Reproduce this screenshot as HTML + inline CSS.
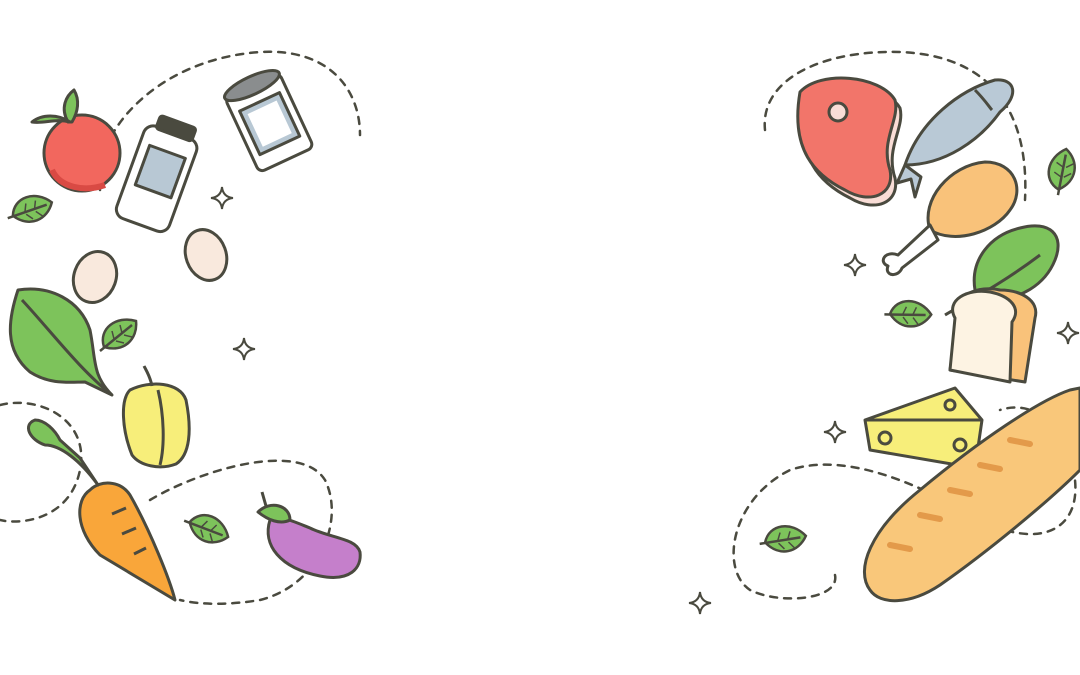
<!DOCTYPE html>
<html><head><meta charset="utf-8"><style>
html,body{margin:0;padding:0;background:#fff;width:1080px;height:675px;overflow:hidden}
svg{display:block}
</style></head><body>
<svg width="1080" height="675" viewBox="0 0 1080 675" xmlns="http://www.w3.org/2000/svg">
<defs>
<g id="leaf"><path d="M-16,12 C-22,-6 -4,-20 16,-14 C18,4 4,18 -16,12Z" fill="#7dc35b" stroke="#4a4a3f" stroke-width="2.5"/><path d="M-20,16 L12,-10" stroke="#4a4a3f" stroke-width="2.5" fill="none"/><path d="M-6,4 l-2,-8 M2,-2 l-2,-8 M-4,6 l8,2 M4,0 l8,2" stroke="#4a4a3f" stroke-width="1.5"/></g>
<g id="spark"><path d="M0,-11 Q1,-1 11,0 Q1,1 0,11 Q-1,1 -11,0 Q-1,-1 0,-11Z" fill="none" stroke="#4a4a3f" stroke-width="2"/></g>
</defs>
<g fill="none" stroke="#4a4a3f" stroke-width="2.5" stroke-dasharray="7 7" stroke-linecap="round">
<path d="M100,190 C90,140 150,60 260,52 C330,48 360,90 360,135"/>
<path d="M0,405 C40,395 90,420 80,470 C70,520 20,525 0,520"/>
<path d="M150,500 C200,470 300,440 325,480 C345,520 320,585 260,600 C230,605 200,605 180,600"/>
<path d="M765,130 C760,80 820,50 900,52 C980,55 1030,100 1025,200"/>
<path d="M835,575 C840,600 780,605 750,590 C720,570 730,500 790,470 C850,450 930,490 980,520 C1040,550 1080,530 1075,480 C1070,420 1030,400 1000,410"/>
</g>
<g stroke="#4a4a3f" stroke-width="3" stroke-linejoin="round">
<circle cx="82" cy="153" r="38" fill="#f2675e"/>
<path d="M52,170 C60,188 85,192 105,185" fill="none" stroke="#d94a44" stroke-width="6"/>
<path d="M68,122 C60,108 66,96 74,90 C80,100 78,112 72,122Z" fill="#7dc35b"/>
<path d="M70,122 C56,118 44,124 32,122 C42,114 58,114 70,122Z" fill="#7dc35b"/>
<g transform="rotate(20 158 175)">
<rect x="130" y="130" width="56" height="98" rx="10" fill="#fff"/>
<rect x="140" y="150" width="38" height="42" fill="#b8c8d4"/>
<rect x="140" y="118" width="38" height="14" rx="3" fill="#4a4a3f"/>
</g>
<g transform="rotate(-25 268 120)">
<rect x="238" y="82" width="60" height="82" rx="6" fill="#fff"/>
<ellipse cx="268" cy="82" rx="30" ry="9" fill="#8a8d8e"/>
<rect x="246" y="100" width="44" height="48" fill="#b8c8d4"/>
<rect x="252" y="106" width="32" height="36" fill="#fff" stroke="none"/>
</g>
<ellipse cx="95" cy="277" rx="21" ry="26" transform="rotate(20 95 277)" fill="#f9e9dd"/>
<ellipse cx="206" cy="255" rx="20" ry="26" transform="rotate(-20 206 255)" fill="#f9e9dd"/>
<path d="M18,290 C8,320 4,350 30,372 C50,385 70,382 85,382 L112,395 C92,375 96,360 90,330 C80,300 50,285 18,290Z" fill="#7dc35b"/>
<path d="M22,300 C50,330 80,370 112,395" fill="none"/>
<path d="M130,390 C150,380 180,382 186,400 C192,430 190,455 176,464 C160,470 140,466 132,455 C122,430 120,400 130,390Z" fill="#f7ee7a"/>
<path d="M152,386 C150,376 146,370 144,366" fill="none"/>
<path d="M158,390 C164,415 165,445 160,465" fill="none"/>
<path d="M90,490 C75,500 75,530 100,555 L175,600 C170,580 150,530 130,495 C120,480 100,480 90,490Z" fill="#f9a63a"/>
<path d="M112,514 l14,-6 M122,534 l14,-6 M134,554 l12,-6" fill="none"/>
<path d="M98,485 C80,460 60,445 45,445 C30,440 22,425 35,420 C45,420 55,430 60,440 L80,458 Z" fill="#7dc35b"/>
<path d="M270,520 C262,545 280,568 320,576 C350,582 362,568 360,552 C356,538 330,538 310,528 C290,520 280,515 270,520Z" fill="#c57fcb"/>
<path d="M258,512 C270,500 290,505 290,520 C280,525 268,520 258,512Z" fill="#7dc35b"/>
<path d="M266,506 l-4,-14" fill="none"/>
<path d="M806,100 C825,78 885,83 900,108 C905,128 885,148 895,178 C900,203 875,213 850,198 C820,183 795,158 806,100Z" fill="#f9ddd6"/>
<path d="M800,92 C820,70 880,75 895,100 C900,120 880,140 890,170 C895,195 870,205 845,190 C815,175 790,150 800,92Z" fill="#f2756a"/>
<circle cx="838" cy="112" r="9" fill="#f9ddd6"/>
<path d="M905,165 C920,120 960,90 995,80 C1015,78 1020,95 1000,112 C980,140 945,165 905,165Z" fill="#b9c9d6"/>
<path d="M905,165 l-8,18 l14,-4 l4,18 l6,-20Z" fill="#b9c9d6"/>
<path d="M975,90 C985,100 990,108 992,110" fill="none"/>
<path d="M930,230 C920,200 950,165 985,162 C1015,162 1025,190 1010,210 C995,232 955,245 930,230Z" fill="#f9c27a"/>
<path d="M930,225 L898,255 C885,250 878,262 888,266 C884,276 898,278 902,268 L938,240Z" fill="#fff"/>
<path d="M975,290 C970,260 990,235 1020,228 C1050,220 1065,235 1055,260 C1045,285 1020,300 990,300Z" fill="#7dc35b"/>
<path d="M945,315 C970,300 1000,285 1040,255" fill="none"/>
<path d="M958,318 C950,295 980,285 1000,290 C1020,290 1040,300 1035,318 L1025,382 L950,370Z" fill="#f9c27a"/>
<path d="M955,318 C945,300 968,288 990,292 C1010,296 1022,308 1012,322 L1010,382 L950,370Z" fill="#fdf3e3"/>
<path d="M865,420 L955,388 L982,420 L975,468 L870,450Z" fill="#f7ee7a"/>
<path d="M865,420 L982,420" fill="none"/>
<circle cx="950" cy="405" r="5" fill="#f7ee7a"/><circle cx="885" cy="438" r="6" fill="#f7ee7a"/><circle cx="960" cy="445" r="6" fill="#f7ee7a"/>
<path d="M870,590 C855,570 870,530 920,490 C980,440 1040,400 1070,390 L1080,388 L1080,470 C1050,500 990,550 940,585 C910,605 880,605 870,590Z" fill="#f9c77a"/>
<path d="M890,545 l20,4 M920,515 l20,4 M950,490 l20,4 M980,465 l20,4 M1010,440 l20,4" fill="none" stroke-width="6" stroke="#e39a4a" stroke-linecap="round"/>
</g>
<use href="#leaf" x="32" y="210" transform="rotate(20 32 210)"/>
<use href="#leaf" x="120" y="335"/>
<use href="#leaf" x="208" y="530" transform="rotate(60 208 530)"/>
<use href="#leaf" x="1063" y="170" transform="rotate(-40 1063 170)"/>
<use href="#leaf" x="910" y="315" transform="rotate(40 910 315)"/>
<use href="#leaf" x="785" y="540" transform="rotate(30 785 540)"/>
<use href="#spark" x="222" y="198"/>
<use href="#spark" x="244" y="349"/>
<use href="#spark" x="855" y="265"/>
<use href="#spark" x="1068" y="333"/>
<use href="#spark" x="835" y="432"/>
<use href="#spark" x="700" y="603"/>
</svg>
</body></html>
